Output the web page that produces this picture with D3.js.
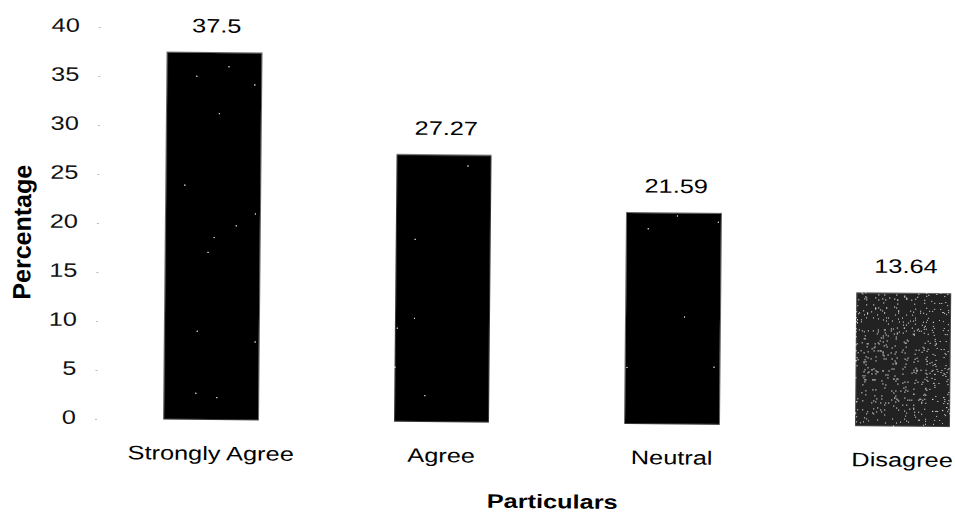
<!DOCTYPE html>
<html>
<head>
<meta charset="utf-8">
<script src="https://cdn.jsdelivr.net/npm/d3@7"></script>
<style>
  html, body { margin: 0; padding: 0; background: #fff; }
  svg { display: block; }
  text { font-family: "Liberation Sans", Arial, sans-serif; fill: #000; }
</style>
</head>
<body>
<svg id="chart" width="955" height="514"></svg>
<script>
// Survey responses (percentage of respondents)
const categories = ["Strongly Agree", "Agree", "Neutral", "Disagree"];
const percentages = [37.5, 27.27, 21.59, 13.64];
const valueLabels = ["37.5", "27.27", "21.59", "13.64"];
const yTicks = [0, 5, 10, 15, 20, 25, 30, 35, 40];

const svg = d3.select("#chart");
const FS = 19.5;      // label font size
const SX = 1.3;       // horizontal stretch of the label type

// Grain filters: light specks over the dark bars
const defs = svg.append("defs");
function grain(id, seed, table) {
  const f = defs.append("filter").attr("id", id)
    .attr("x", 0).attr("y", 0).attr("width", 1).attr("height", 1);
  f.append("feTurbulence").attr("type", "fractalNoise")
    .attr("baseFrequency", 0.9).attr("numOctaves", 2).attr("seed", seed).attr("result", "n");
  f.append("feColorMatrix").attr("in", "n").attr("type", "matrix")
    .attr("values", "0 0 0 0 1  0 0 0 0 1  0 0 0 0 1  1 0 0 0 0").attr("result", "a");
  f.append("feComponentTransfer").attr("in", "a").attr("result", "s")
    .append("feFuncA").attr("type", "discrete").attr("tableValues", table);
  f.append("feComposite").attr("in", "s").attr("in2", "SourceGraphic")
    .attr("operator", "in").attr("result", "sp");
  const m = f.append("feMerge");
  m.append("feMergeNode").attr("in", "SourceGraphic");
  m.append("feMergeNode").attr("in", "sp");
}
grain("grainLight", 4, "0 0 0 0 0 0 0 0 0 0 0 0 0 0 0 0 0 0.7 0.9 0.9");
grain("grainHeavy", 7, "0 0 0 0 0 0 0 0.45 0.8 0.9");

// Whole plot sits on a slight tilt
const g = svg.append("g").attr("transform", "rotate(0.55, 211, 420)");

const y = d3.scaleLinear().domain([0, 40]).range([420, 28]);
const x = d3.scaleBand().domain(categories)
  .range([96, 1017.5]).paddingInner(0.588).paddingOuter(0.293);

// Y axis: faint tick marks, no domain line
const yAxis = g.append("g").attr("transform", "translate(97,0)")
  .call(d3.axisLeft(y).tickValues(yTicks).tickSize(2).tickPadding(0));
yAxis.select(".domain").remove();
yAxis.selectAll(".tick line").attr("stroke", "#b8b8b8");
yAxis.selectAll(".tick text")
  .attr("x", -21 / SX).attr("y", -1.5)
  .attr("transform", `scale(${SX},1)`)
  .style("font-size", FS + "px").style("fill", "#111");

// Bars
g.selectAll("rect.bar").data(categories).join("rect")
  .attr("class", "bar")
  .attr("x", d => x(d))
  .attr("y", (d, i) => y(percentages[i]))
  .attr("width", x.bandwidth())
  .attr("height", (d, i) => y(0) - y(percentages[i]))
  .attr("fill", (d, i) => i === 3 ? "#222" : "#050505")
  .attr("stroke", "#6a6a6a").attr("stroke-width", 1)
  .attr("filter", (d, i) => i === 3 ? "url(#grainHeavy)" : "url(#grainLight)");

// Value labels above bars
g.selectAll("g.vlabel").data(categories).join("g")
  .attr("class", "vlabel")
  .attr("transform", (d, i) =>
    `translate(${x(d) + x.bandwidth() / 2 + 2},${y(percentages[i]) - 20}) scale(${SX},1)`)
  .append("text")
  .attr("text-anchor", "middle")
  .style("font-size", FS + "px")
  .text((d, i) => valueLabels[i]);

// Category labels
const xAxis = g.append("g").attr("transform", `translate(0,${y(0)})`)
  .call(d3.axisBottom(x).tickSize(0));
xAxis.select(".domain").remove();
xAxis.selectAll(".tick text")
  .attr("y", 40).attr("dy", 0)
  .attr("transform", `scale(${SX},1)`)
  .attr("x", 0)
  .style("font-size", FS + "px");

// Axis titles
g.append("g").attr("transform", `translate(553,505) scale(${SX},1)`)
  .append("text").attr("text-anchor", "middle")
  .style("font-size", FS + "px").style("font-weight", "bold")
  .text("Particulars");

g.append("text")
  .attr("transform", "translate(29,234) rotate(-90)")
  .attr("text-anchor", "middle")
  .style("font-size", "25px").style("font-weight", "bold")
  .text("Percentage");
</script>
</body>
</html>
